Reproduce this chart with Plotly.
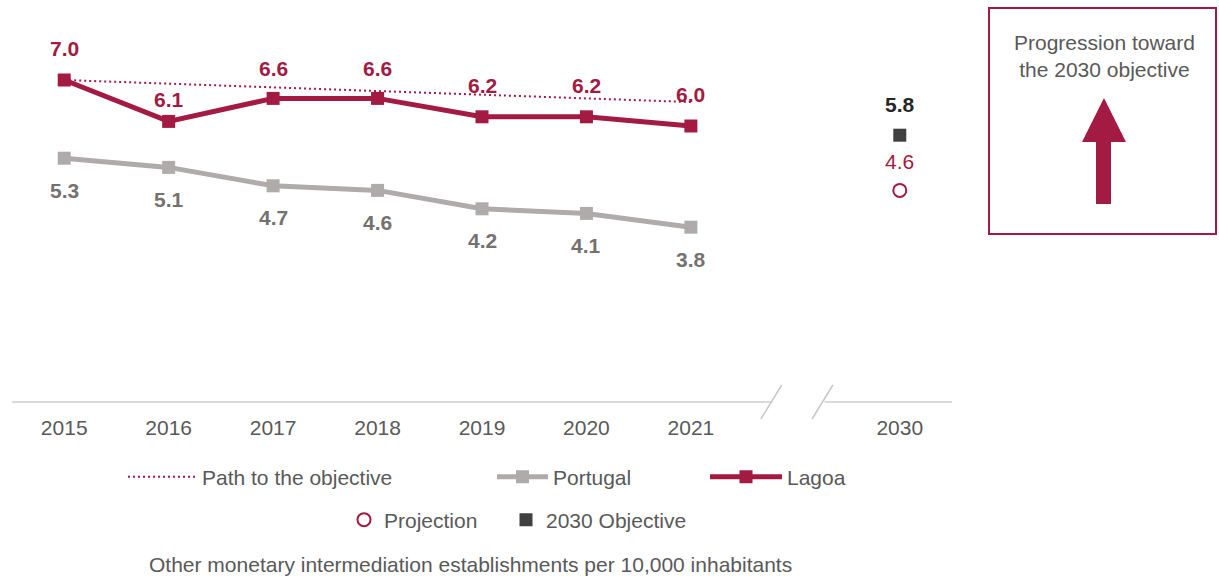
import plotly.graph_objects as go

# ---------------- data ----------------
years = ["2015", "2016", "2017", "2018", "2019", "2020", "2021"]
year_pos = [0, 1, 2, 3, 4, 5, 6]
lagoa = [7.0, 6.1, 6.6, 6.6, 6.2, 6.2, 6.0]
portugal = [5.3, 5.1, 4.7, 4.6, 4.2, 4.1, 3.8]
path_objective = [7.0, 6.92, 6.84, 6.76, 6.68, 6.60, 6.52]
target_label = "2030"
target_pos = 8
objective_2030 = 5.8
projection_2030 = 4.6
tick_vals = year_pos + [target_pos]
tick_text = years + [target_label]

# ---------------- styling ----------------
CRIMSON = "#A31A42"
GREY_LINE = "#AFABAB"
GREY_LABEL = "#757171"
TEXT = "#595959"
DARK = "#404040"
FONT = "Liberation Sans, Arial, sans-serif"
FS = 21
W, H = 1219, 579
ML, MT = 12, 34
PW, PH = 940, 368
MR, MB = W - ML - PW, H - MT - PH
X_RANGE = [-0.5, 8.5]
Y_RANGE = [0, 8]

lagoa_label_shift = [32, 22, 30, 30, 31, 31, 32]


def px_x(px):
    """pixel x -> paper x"""
    return (px - ML) / PW


def px_y(py):
    """pixel y -> paper y"""
    return (MT + PH - py) / PH


def ax_x(v):
    return (v - X_RANGE[0]) / (X_RANGE[1] - X_RANGE[0])


fig = go.Figure()

fig.add_trace(go.Scatter(
    x=year_pos, y=path_objective, mode="lines", name="Path to the objective",
    line=dict(color=CRIMSON, width=2, dash="2px,3px"), legend="legend",
    hoverinfo="skip"))
fig.add_trace(go.Scatter(
    x=year_pos, y=portugal, mode="lines+markers", name="Portugal",
    line=dict(color=GREY_LINE, width=5),
    marker=dict(symbol="square", size=13, color=GREY_LINE), legend="legend2"))
fig.add_trace(go.Scatter(
    x=year_pos, y=lagoa, mode="lines+markers", name="Lagoa",
    line=dict(color=CRIMSON, width=5),
    marker=dict(symbol="square", size=13, color=CRIMSON), legend="legend3"))
fig.add_trace(go.Scatter(
    x=[target_pos], y=[projection_2030], mode="markers", name="Projection",
    marker=dict(symbol="circle-open", size=13, color=CRIMSON, line=dict(width=2)),
    legend="legend4"))
fig.add_trace(go.Scatter(
    x=[target_pos], y=[objective_2030], mode="markers", name="2030 Objective",
    marker=dict(symbol="square", size=13, color=DARK), legend="legend5"))

annotations = []
for x, v, s in zip(year_pos, lagoa, lagoa_label_shift):
    annotations.append(dict(x=x, y=v, text=f"<b>{v:.1f}</b>", showarrow=False,
                            yshift=s, font=dict(size=FS, color=CRIMSON, family=FONT)))
for x, v in zip(year_pos, portugal):
    annotations.append(dict(x=x, y=v, text=f"<b>{v:.1f}</b>", showarrow=False,
                            yshift=-32, font=dict(size=FS, color=GREY_LABEL, family=FONT)))
annotations.append(dict(x=target_pos, y=objective_2030, text=f"<b>{objective_2030:.1f}</b>",
                        showarrow=False, yshift=31,
                        font=dict(size=FS, color="#262626", family=FONT)))
annotations.append(dict(x=target_pos, y=projection_2030, text=f"{projection_2030:.1f}",
                        showarrow=False, yshift=29,
                        font=dict(size=FS, color=CRIMSON, family=FONT)))
# caption
annotations.append(dict(xref="paper", yref="paper", x=px_x(470), y=px_y(564),
                        text="Other monetary intermediation establishments per 10,000 inhabitants",
                        showarrow=False, xanchor="center", yanchor="middle",
                        font=dict(size=FS, color=TEXT, family=FONT)))
# box text
annotations.append(dict(xref="paper", yref="paper", x=px_x(1104), y=px_y(56),
                        text="Progression toward<br>the 2030 objective",
                        showarrow=False, xanchor="center", yanchor="middle",
                        font=dict(size=FS, color=TEXT, family=FONT)))

shapes = []
# axis baseline with break
AXC = "#D9D9D9"
shapes.append(dict(type="line", xref="paper", yref="paper", x0=0, x1=ax_x(6.78),
                   y0=0, y1=0, line=dict(color=AXC, width=2)))
shapes.append(dict(type="line", xref="paper", yref="paper", x0=ax_x(7.28), x1=1,
                   y0=0, y1=0, line=dict(color=AXC, width=2)))
for c in (6.77, 7.26):
    shapes.append(dict(type="line", xref="paper", yref="paper",
                       x0=ax_x(c - 0.1), x1=ax_x(c + 0.1),
                       y0=-17 / PH, y1=17 / PH, line=dict(color="#C8C8C8", width=1.5)))
# box
shapes.append(dict(type="rect", xref="paper", yref="paper",
                   x0=px_x(989), x1=px_x(1216), y0=px_y(234), y1=px_y(8),
                   line=dict(color=CRIMSON, width=2), fillcolor="rgba(0,0,0,0)"))
# arrow
arrow_pts = [(1104, 98), (1126, 142), (1111, 142), (1111, 204), (1096, 204),
             (1096, 142), (1082, 142)]
path = "M " + " L ".join(f"{px_x(a):.5f},{px_y(b):.5f}" for a, b in arrow_pts) + " Z"
shapes.append(dict(type="path", xref="paper", yref="paper", path=path,
                   fillcolor=CRIMSON, line=dict(color=CRIMSON, width=0)))


def leg(xpx, ypx, iw=30):
    """xpx, ypx in figure pixels"""
    return dict(orientation="h", xref="container", yref="container",
                x=xpx / W, y=1 - ypx / H, xanchor="left", yanchor="middle",
                font=dict(size=FS, color=TEXT, family=FONT), itemwidth=iw,
                bgcolor="rgba(0,0,0,0)", borderwidth=0, itemclick=False)


fig.update_layout(
    width=W, height=H,
    margin=dict(l=ML, r=MR, t=MT, b=MB),
    paper_bgcolor="white", plot_bgcolor="white",
    font=dict(family=FONT, color=TEXT),
    showlegend=True,
    xaxis=dict(range=X_RANGE, tickmode="array", tickvals=tick_vals, ticktext=tick_text,
               showgrid=False, zeroline=False, showline=False, ticks="",
               tickfont=dict(size=FS, color=TEXT, family=FONT), ticklabelstandoff=11,
               fixedrange=True),
    yaxis=dict(range=Y_RANGE, visible=False, fixedrange=True),
    annotations=annotations,
    shapes=shapes,
    legend=leg(123, 477, 69),
    legend2=leg(492, 477, 51),
    legend3=leg(705, 477, 72),
    legend4=leg(344, 520, 30),
    legend5=leg(506, 520, 30),
)

fig.write_html("out.html", config={"displayModeBar": False},
               post_script="document.body.style.margin='0px';")
